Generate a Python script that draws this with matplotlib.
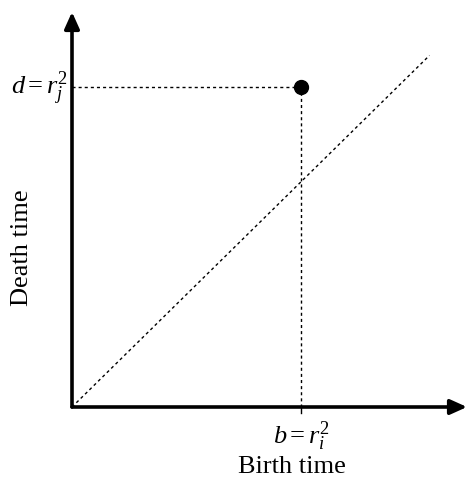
import matplotlib
matplotlib.use("Agg")
import matplotlib.pyplot as plt

# data
point_b = [0.58]
point_d = [0.81]
diag_x = [0.0, 0.905]
diag_y = [0.0, 0.89]
x_label = "Birth time"
y_label = "Death time"
b_label = r"$b{=}r_i^2$"
d_label = r"$d{=}r_j^2$"

plt.rcParams['mathtext.fontset'] = 'custom'
plt.rcParams['mathtext.rm'] = 'Liberation Serif'
plt.rcParams['mathtext.it'] = 'Liberation Serif:italic'
plt.rcParams['font.family'] = 'Liberation Serif'

fig = plt.figure(figsize=(4.74, 4.85), dpi=100)
W, H = 474, 485
x0, y0 = 72, 408
size = 395
ax = fig.add_axes([x0 / W, 1 - y0 / H, size / W, size / H])
ax.set_xlim(0, 1)
ax.set_ylim(0, 1)
ax.axis('off')

# axes arrows
arrow = dict(arrowstyle='-|>,head_length=1.0,head_width=0.45', lw=2.6, color='black',
             shrinkA=0, shrinkB=0)
ax.annotate('', xy=(1.0, 0), xytext=(0, 0), xycoords='data', arrowprops=arrow,
            annotation_clip=False)
ax.annotate('', xy=(0, 1.0), xytext=(0, 0), xycoords='data', arrowprops=arrow,
            annotation_clip=False)

ls = (0, (2.2, 2.2))
# diagonal
ax.plot(diag_x, diag_y, color='black', lw=1.0, linestyle=ls)

# dashed guides
ax.plot([0, point_b[0]], [point_d[0], point_d[0]], color='black', lw=1.0, linestyle=ls)
ax.plot([point_b[0], point_b[0]], [0, point_d[0]], color='black', lw=1.0, linestyle=ls)
# small tick below x axis
ax.plot([point_b[0], point_b[0]], [-0.015, 0], color='black', lw=1.0, clip_on=False)

# point
ax.plot(point_b, point_d, 'o', color='black', markersize=10)

# labels
ax.text(-0.01, point_d[0], d_label, ha='right', va='center', fontsize=19)
ax.text(point_b[0], -0.03, b_label, ha='center', va='top', fontsize=19)
ax.text(0.557, -0.15, x_label, ha='center', va='center', fontsize=19)
ax.text(-0.126, 0.407, y_label, ha='center', va='center', fontsize=19, rotation=90)

fig.savefig('out.png', dpi=100)
